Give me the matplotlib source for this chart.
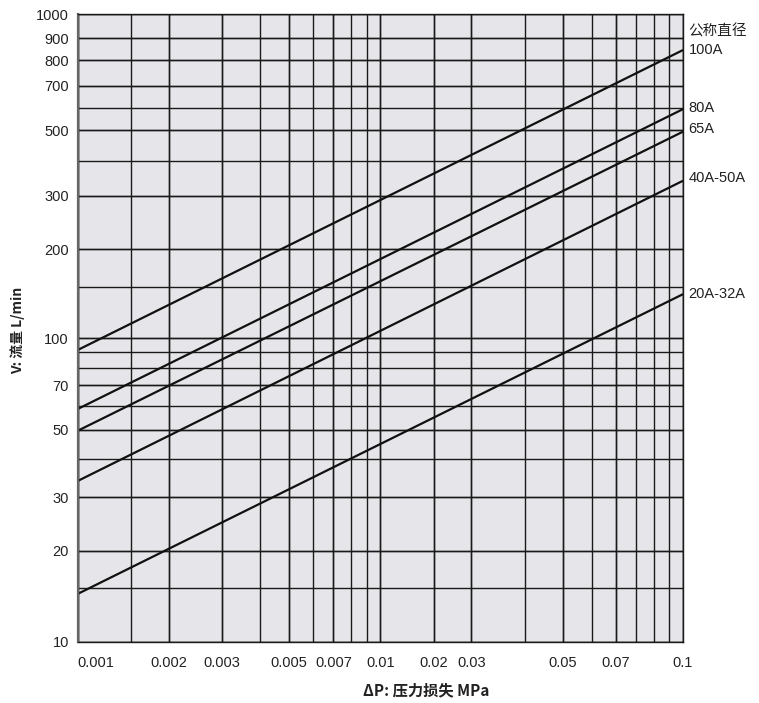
import numpy as np
import matplotlib
matplotlib.use("Agg")
import matplotlib.pyplot as plt
from matplotlib.ticker import FixedLocator, FixedFormatter, NullFormatter

plt.rcParams['font.family'] = ['Liberation Sans', 'Noto Sans CJK SC', 'DejaVu Sans']

# ---------------- data ----------------
SIZES = ['100A', '80A', '65A', '40A-50A', '20A-32A']
DP_ENDS = [0.001, 0.1]                      # MPa, start / end of every line
FLOW_START = [91.5, 58.5, 49.6, 33.9, 14.4]  # L/min at 0.001 MPa
FLOW_END = [845, 593, 495, 340, 142]         # L/min at 0.1 MPa
LEGEND_TITLE = '公称直径'

X_GRID = [0.001, 0.0015, 0.002, 0.003, 0.004, 0.005, 0.006, 0.007, 0.008, 0.009,
          0.01, 0.015, 0.02, 0.03, 0.04, 0.05, 0.06, 0.07, 0.08, 0.09, 0.1]
X_TICKS = [0.001, 0.002, 0.003, 0.005, 0.007, 0.01, 0.015, 0.02, 0.04, 0.06, 0.1]
X_TICKLABELS = ['0.001', '0.002', '0.003', '0.005', '0.007', '0.01',
                '0.02', '0.03', '0.05', '0.07', '0.1']
Y_GRID = [10, 15, 20, 30, 40, 50, 60, 70, 80, 90, 100,
          150, 200, 300, 400, 500, 600, 700, 800, 900, 1000]
Y_TICKS = [10, 20, 30, 50, 70, 100, 200, 300, 500, 700, 800, 900, 1000]
Y_TICKLABELS = ['10', '20', '30', '50', '70', '100', '200', '300',
                '500', '700', '800', '900', '1000']

# the printed y axis is logarithmic but stretched in its top decade
Y_SCALE_VALUES = [10, 100, 150, 200, 300, 400, 500, 600, 700, 800, 900, 1000]
Y_SCALE_UNITS = [0.0, 1.0, 1.168, 1.293, 1.4686, 1.5838, 1.6849, 1.7593,
                 1.8318, 1.9154, 1.9878, 2.0668]

_lx = np.concatenate([[-12.0], np.log10(Y_SCALE_VALUES), [12.0]])
_lu = np.concatenate([[-12.0], Y_SCALE_UNITS, [Y_SCALE_UNITS[-1] + 9.0]])


def y_fwd(v):
    v = np.asarray(v, dtype=float)
    return np.interp(np.log10(np.clip(v, 1e-12, None)), _lx, _lu)


def y_inv(u):
    u = np.asarray(u, dtype=float)
    return 10 ** np.interp(u, _lu, _lx)


# ---------------- figure ----------------
fig = plt.figure(figsize=(7.59, 7.03), dpi=100)
ax = fig.add_axes([0.1024, 0.0868, 0.7975, 0.8929])
ax.set_facecolor('#e6e5e9')

ax.set_xscale('log')
ax.set_yscale('function', functions=(y_fwd, y_inv))
ax.set_xlim(DP_ENDS[0], DP_ENDS[1])
ax.set_ylim(10, 1000)

ax.xaxis.set_major_locator(FixedLocator(X_TICKS))
ax.xaxis.set_major_formatter(FixedFormatter(X_TICKLABELS))
ax.xaxis.set_minor_locator(FixedLocator(X_GRID))
ax.xaxis.set_minor_formatter(NullFormatter())
ax.yaxis.set_major_locator(FixedLocator(Y_TICKS))
ax.yaxis.set_major_formatter(FixedFormatter(Y_TICKLABELS))
ax.yaxis.set_minor_locator(FixedLocator(Y_GRID))
ax.yaxis.set_minor_formatter(NullFormatter())
ax.xaxis.remove_overlapping_locs = False
ax.yaxis.remove_overlapping_locs = False

ax.grid(True, which='both', color='#1a1a1a', linewidth=1.0)
ax.tick_params(which='both', length=0)
ax.tick_params(axis='y', pad=6.3, labelsize=10.5, colors='#222222')
ax.tick_params(axis='x', pad=10, labelsize=10.5, colors='#222222')

xl = ax.get_xticklabels()
xl[0].set_horizontalalignment('left')

for s in ['top', 'right', 'bottom']:
    ax.spines[s].set_color('#1a1a1a')
    ax.spines[s].set_linewidth(1.0)
ax.spines['left'].set_color('#666666')
ax.spines['left'].set_linewidth(1.6)

LABEL_DY = [0, 1, 2, 2, 0]
for name, f0, f1, dy in zip(SIZES, FLOW_START, FLOW_END, LABEL_DY):
    ax.plot(DP_ENDS, [f0, f1], color='#111111', linewidth=1.6, solid_capstyle='butt')
    ax.annotate(name, xy=(DP_ENDS[1], f1), xytext=(4, dy), textcoords='offset points',
                ha='left', va='center', fontsize=10.5, color='#222222',
                annotation_clip=False)

ax.annotate(LEGEND_TITLE, xy=(1, 1), xycoords='axes fraction', xytext=(4, -12.5),
            textcoords='offset points', ha='left', va='center', fontsize=10.5,
            color='#222222', family=['Noto Sans CJK SC', 'DejaVu Sans'])

fig.text(426 / 759, 1 - 690 / 703, 'ΔP: 压力损失 MPa', ha='center', va='center',
         fontsize=11, fontweight='bold', color='#222222',
         family=['Noto Sans CJK SC', 'DejaVu Sans'])
fig.text(17.5 / 759, 1 - 330 / 703, 'V: 流量 L/min', ha='center', va='center',
         rotation=90, fontsize=10, fontweight='bold', color='#222222',
         family=['Noto Sans CJK SC', 'DejaVu Sans'])

fig.savefig('out.png', dpi=100, facecolor='white')
